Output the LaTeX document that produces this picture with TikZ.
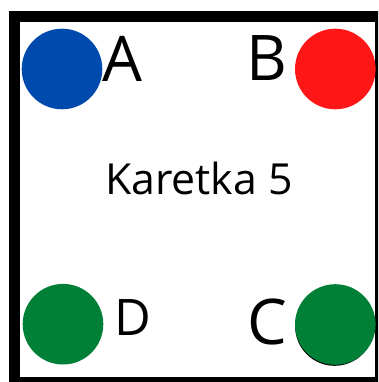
\documentclass[tikz,border=0pt]{standalone}
\usepackage{fontspec}
\setmainfont{Open Sans}
\definecolor{dotblue}{HTML}{004AAD}
\definecolor{dotred}{HTML}{FF1616}
\definecolor{dotgreen}{HTML}{008037}
\begin{document}
\begin{tikzpicture}[x=1pt,y=-1pt,
  dot/.style={circle,inner sep=0pt,minimum size=80.6pt},
  lab/.style={inner sep=0pt,anchor=base,text=black}]
\useasboundingbox (0,0) rectangle (378,382);
\clip (0,0) rectangle (378,382);
\fill[white] (0,0) rectangle (378,382);
\draw[line width=11pt] (14.5,16.5) rectangle (380.5,382.5);
% circles
\node[dot,fill=dotblue] (circA) at (62,69) {};
\node[dot,fill=dotred] (circB) at (335.3,69) {};
\node[dot,fill=dotgreen] (circD) at (63,324.2) {};
\node[dot,fill=black,minimum size=79pt] (shadC) at (334.6,326.3) {};
\node[dot,fill=dotgreen] (circC) at (335.3,324.5) {};
% labels
\node[lab,font=\fontsize{63}{63}\selectfont] (labA) at (122.5,82) {A};
\node[lab,font=\fontsize{63}{63}\selectfont] (labB) at (267,81) {B};
\node[lab,font=\fontsize{63}{63}\selectfont] (labC) at (267.5,344.3) {C};
\node[lab,font=\fontsize{50.4}{50.4}\selectfont] (labD) at (133.3,335) {D};
\node[lab,font=\fontsize{42.8}{42.8}\selectfont] (title) at (199,194.3) {Karetka 5};
\end{tikzpicture}
\end{document}
